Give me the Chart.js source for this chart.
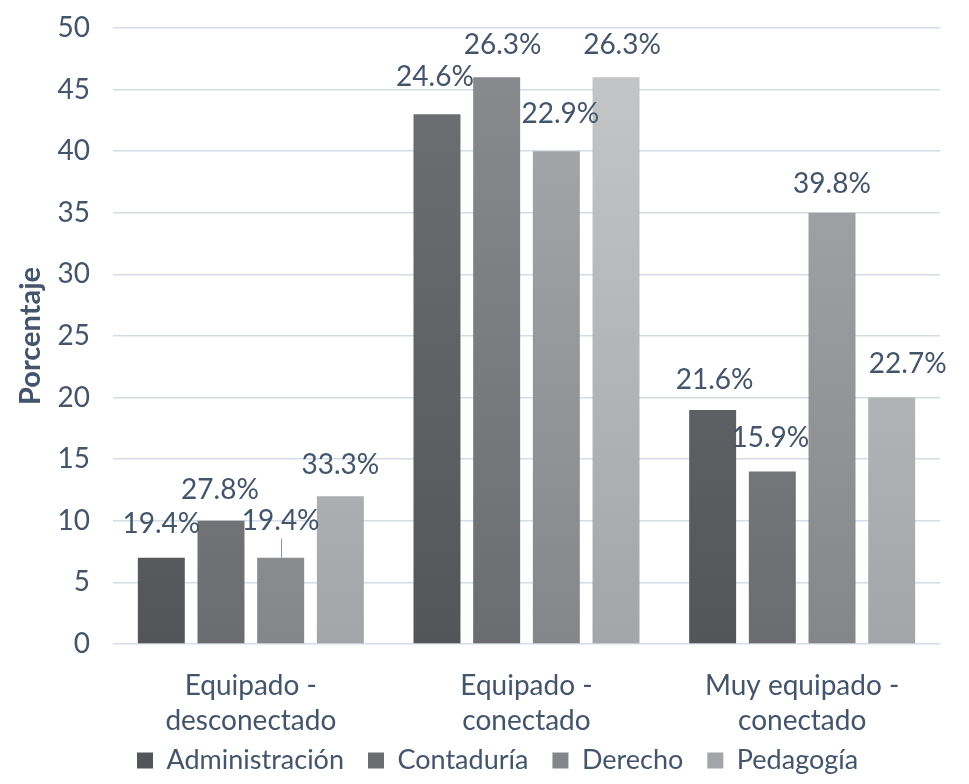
<!DOCTYPE html>
<html>
<head>
<meta charset="utf-8">
<script src="https://cdn.jsdelivr.net/npm/chart.js@4.4.0/dist/chart.umd.min.js"></script>
<style>
  html, body { margin: 0; padding: 0; background: #fff; }
  #wrap { width: 969px; height: 784px; }
</style>
</head>
<body>
<div id="wrap"><canvas id="myChart"></canvas></div>
<script>
// categories on the x axis (two-line labels)
var categories = [
  ['Equipado -', 'desconectado'],
  ['Equipado -', 'conectado'],
  ['Muy equipado -', 'conectado']
];

// bar heights per career
var administracion = [7, 43, 19];
var contaduria = [10, 46, 14];
var derecho = [7, 40, 35];
var pedagogia = [12, 46, 20];

// percentage written above each bar
var pctAdministracion = ['19.4%', '24.6%', '21.6%'];
var pctContaduria = ['27.8%', '26.3%', '15.9%'];
var pctDerecho = ['19.4%', '22.9%', '39.8%'];
var pctPedagogia = ['33.3%', '26.3%', '22.7%'];

// y axis ticks
var yMin = 0, yMax = 50, yStep = 5;

// nudges for the value labels [dx, dy] from the top of each bar
var labelNudge = [
  [[0, -34], [-2, -37], [2, -30]],
  [[-1, -31], [6, -32], [-2, -34]],
  [[0, -37], [4, -37], [0, -29]],
  [[0, -31], [6, -32], [16, -34]]
];
// labels that get a short leader line down to their bar: [dataset, index]
var leaders = [[2, 0]];

var textColor = '#44546A';
var font = 'Lato, "Open Sans", sans-serif';

// category axis whose tick labels are not clipped to the axis box,
// so the second line can sit next to the legend
class CategoryNoClip extends Chart.CategoryScale {
  _computeLabelArea() { return undefined; }
}
CategoryNoClip.id = 'categoryNoClip';
CategoryNoClip.defaults = Chart.CategoryScale.defaults;
Chart.register(CategoryNoClip);

// vertical shading across the plot area, darker near the axis
function shade(top, bottom) {
  return function (context) {
    var chart = context.chart, area = chart.chartArea;
    if (!area) return bottom;
    var g = chart.ctx.createLinearGradient(0, area.bottom, 0, area.top);
    g.addColorStop(0, bottom);
    g.addColorStop(1, top);
    return g;
  };
}

var barLabels = {
  id: 'barLabels',
  afterDatasetsDraw: function (chart) {
    var ctx = chart.ctx;
    ctx.save();
    ctx.font = '28px ' + font;
    ctx.fillStyle = textColor;
    ctx.textAlign = 'center';
    ctx.textBaseline = 'middle';
    chart.data.datasets.forEach(function (ds, i) {
      chart.getDatasetMeta(i).data.forEach(function (bar, j) {
        var n = labelNudge[i][j];
        ctx.fillText(ds.pct[j], bar.x + n[0], bar.y + n[1]);
      });
    });
    ctx.strokeStyle = '#8494AE';
    ctx.lineWidth = 1;
    leaders.forEach(function (l) {
      var bar = chart.getDatasetMeta(l[0]).data[l[1]];
      var x = Math.round(bar.x) + 0.5;
      ctx.beginPath();
      ctx.moveTo(x, bar.y + labelNudge[l[0]][l[1]][1] + 18);
      ctx.lineTo(x, bar.y);
      ctx.stroke();
    });
    ctx.restore();
  }
};

var ctx = document.getElementById('myChart').getContext('2d');
var chart = new Chart(ctx, {
  type: 'bar',
  data: {
    labels: categories,
    datasets: [
      { label: 'Administración', data: administracion, pct: pctAdministracion, backgroundColor: shade('#707175', '#535559') },
      { label: 'Contaduría', data: contaduria, pct: pctContaduria, backgroundColor: shade('#8a8c90', '#6a6c70') },
      { label: 'Derecho', data: derecho, pct: pctDerecho, backgroundColor: shade('#a9abae', '#84868a') },
      { label: 'Pedagogía', data: pedagogia, pct: pctPedagogia, backgroundColor: shade('#c6c7c9', '#a3a5a8') }
    ]
  },
  options: {
    responsive: true,
    maintainAspectRatio: false,
    animation: false,
    categoryPercentage: 0.866,
    barPercentage: 0.787,
    layout: { padding: { top: 0, right: 29, left: 0, bottom: 0 } },
    plugins: {
      tooltip: { enabled: false },
      legend: {
        position: 'bottom',
        fullSize: false,
        align: 'start',
        labels: {
          color: textColor,
          font: { family: font, size: 27, lineHeight: 1.0 },
          boxWidth: 16,
          boxHeight: 16,
          padding: 24
        }
      }
    },
    scales: {
      x: {
        type: 'categoryNoClip',
        grid: { display: false },
        border: { display: false },
        ticks: {
          color: textColor,
          font: { family: font, size: 28, lineHeight: 1.25 },
          padding: 16,
          maxRotation: 0
        },
        afterFit: function (scale) { scale.height = 79; }
      },
      y: {
        min: yMin,
        max: yMax,
        grid: { color: '#D6DCE5', lineWidth: 1.5, drawTicks: false },
        border: { display: false },
        ticks: {
          stepSize: yStep,
          color: textColor,
          font: { family: font, size: 28, lineHeight: 0.36 },
          padding: 23
        },
        title: {
          display: true,
          text: 'Porcentaje',
          color: textColor,
          font: { family: font, size: 29, weight: 'bold' },
          padding: { top: 13, bottom: 0 }
        },
        afterFit: function (scale) { scale.width = 113; }
      }
    }
  },
  plugins: [barLabels]
});
</script>
</body>
</html>
